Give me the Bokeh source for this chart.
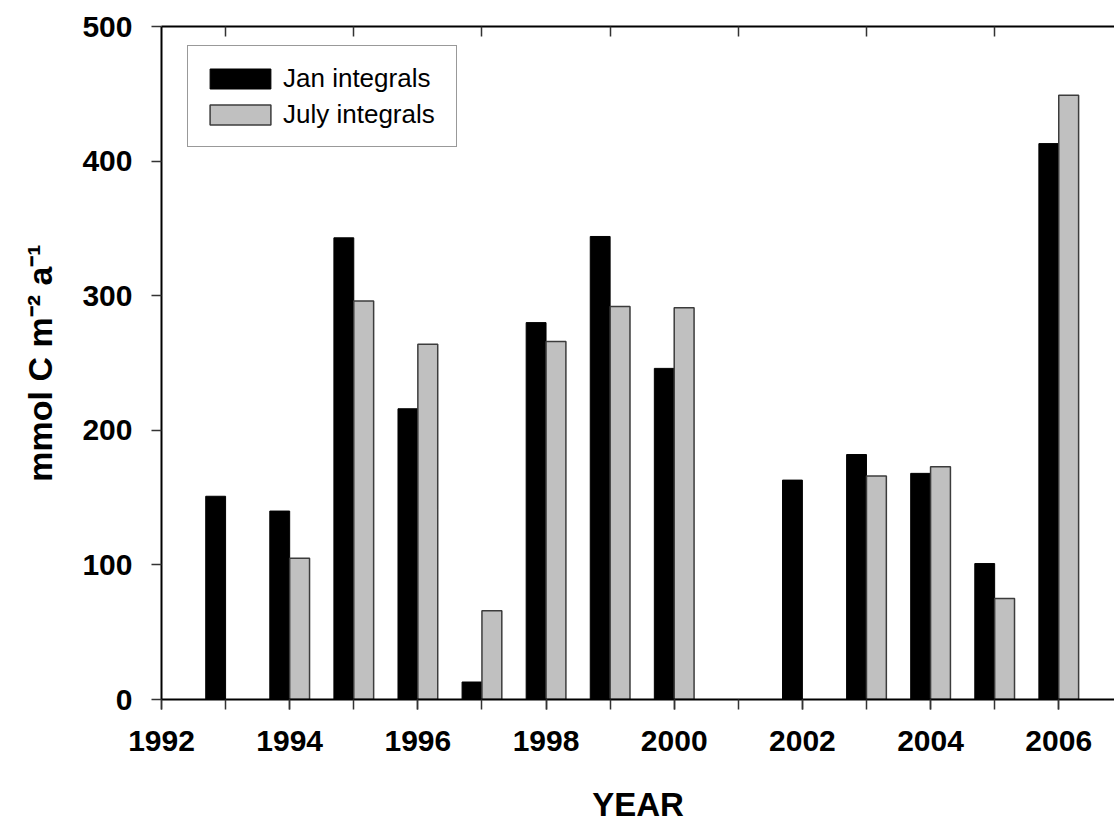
from bokeh.plotting import figure
from bokeh.models import Range1d, FixedTicker, LinearAxis, Legend, LegendItem, CustomJSTickFormatter
from bokeh.embed import file_html
from bokeh.resources import INLINE

# ---- data ----
years = [1993, 1994, 1995, 1996, 1997, 1998, 1999, 2000, 2001, 2002, 2003, 2004, 2005, 2006]
jan_integrals = [151, 140, 343, 216, 13, 280, 344, 246, None, 163, 182, 168, 101, 413]
july_integrals = [None, 105, 296, 264, 66, 266, 292, 291, None, None, 166, 173, 75, 449]
x_tick_years = list(range(1992, 2007))
x_label_years = list(range(1992, 2007, 2))
top_tick_years = list(range(1993, 2007, 2))
y_ticks = [0, 100, 200, 300, 400, 500]
x_title = "YEAR"
y_title = "mmol C m\u207b\u00b2 a\u207b\u00b9"

BAR_W = 0.31
X0, X1 = 1992, 2006.87
Y0, Y1 = 0, 500

W, H = 1114, 825
LEFT, RIGHT, TOP, BOTTOM = 161, 0, 26, 126

FONT = "Liberation Sans"

jan_x = [y - BAR_W / 2 for y, v in zip(years, jan_integrals) if v is not None]
jan_v = [v for v in jan_integrals if v is not None]
jul_x = [y + BAR_W / 2 for y, v in zip(years, july_integrals) if v is not None]
jul_v = [v for v in july_integrals if v is not None]

p = figure(width=W, height=H, output_backend="svg", toolbar_location=None,
           x_range=Range1d(X0, X1), y_range=Range1d(Y0, Y1),
           min_border_left=LEFT, min_border_right=RIGHT,
           min_border_top=TOP, min_border_bottom=BOTTOM)
p.outline_line_color = None
p.xgrid.visible = False
p.ygrid.visible = False
p.background_fill_color = "white"
p.border_fill_color = "white"

r_jan = p.vbar(x=jan_x, top=jan_v, bottom=0, width=BAR_W,
               fill_color="black", line_color="black", line_width=1)
r_jul = p.vbar(x=jul_x, top=jul_v, bottom=0, width=BAR_W,
               fill_color="#c0c0c0", line_color="#3c3c3c", line_width=1.5)

# bottom axis
xa = p.xaxis[0]
xa.ticker = FixedTicker(ticks=x_label_years, minor_ticks=x_tick_years)
xa.axis_line_width = 2
xa.axis_line_color = "black"
xa.major_tick_out = 10
xa.major_tick_in = 0
xa.minor_tick_out = 10
xa.minor_tick_in = 0
xa.major_tick_line_width = 1.5
xa.minor_tick_line_width = 1.5
xa.major_tick_line_color = "#333333"
xa.minor_tick_line_color = "#333333"
xa.major_label_text_font = FONT
xa.major_label_text_font_style = "bold"
xa.major_label_text_font_size = "30px"
xa.major_label_text_color = "black"
xa.major_label_standoff = 21
xa.axis_label = x_title
xa.axis_label_text_font = FONT
xa.axis_label_text_font_style = "bold"
xa.axis_label_text_font_size = "33px"
xa.axis_label_text_color = "black"
xa.axis_label_standoff = 32

# left axis
ya = p.yaxis[0]
ya.ticker = FixedTicker(ticks=y_ticks)
ya.axis_line_width = 2
ya.axis_line_color = "black"
ya.major_tick_out = 10
ya.major_tick_in = 0
ya.minor_tick_line_color = None
ya.major_tick_line_width = 1.5
ya.major_tick_line_color = "#333333"
ya.major_label_text_font = FONT
ya.major_label_text_font_style = "bold"
ya.major_label_text_font_size = "30px"
ya.major_label_text_color = "black"
ya.major_label_standoff = 19
ya.axis_label = y_title
ya.axis_label_text_font = FONT
ya.axis_label_text_font_style = "bold"
ya.axis_label_text_font_size = "34px"
ya.axis_label_text_color = "black"
ya.axis_label_standoff = 20

# top axis (line with inward ticks at odd years, no labels)
ta = LinearAxis(ticker=FixedTicker(ticks=top_tick_years),
                formatter=CustomJSTickFormatter(code="return ''"))
ta.axis_line_width = 2
ta.axis_line_color = "black"
ta.major_tick_in = 10
ta.major_tick_out = 0
ta.major_tick_line_width = 1.5
ta.major_tick_line_color = "#333333"
ta.minor_tick_line_color = None
ta.major_label_text_font_size = "0px"
ta.major_label_standoff = 0
p.add_layout(ta, "above")

# legend (location = bottom-left corner, px from the frame's bottom-left)
legend = Legend(items=[LegendItem(label="Jan integrals", renderers=[r_jan]),
                       LegendItem(label="July integrals", renderers=[r_jul])],
                location=(26, 552), margin=0, padding=14, spacing=0,
                glyph_width=76, glyph_height=25, label_height=36, label_width=159,
                label_standoff=5,
                label_text_font=FONT, label_text_font_size="26px",
                label_text_color="black",
                border_line_color="#333333", border_line_width=1.5,
                background_fill_color="white", background_fill_alpha=1)
p.add_layout(legend)

open("out.html", "w").write(file_html(p, INLINE))
